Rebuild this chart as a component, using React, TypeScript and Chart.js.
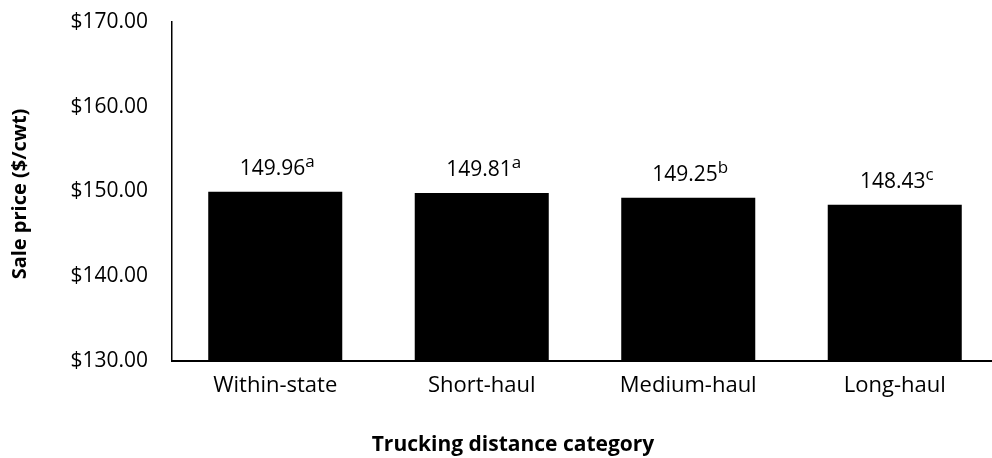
import React, { useEffect, useRef } from "react";
import { Chart, registerables } from "chart.js";

Chart.register(...registerables);

const categories = ["Within-state", "Short-haul", "Medium-haul", "Long-haul"];
const salePrices = [149.96, 149.81, 149.25, 148.43];
const significance = ["a", "a", "b", "c"];
const yTicks = [130, 140, 150, 160, 170];

const FONT = "'Open Sans', 'Noto Sans', sans-serif";

const labelPlugin = {
  id: "barLabels",
  afterDatasetsDraw(chart: any) {
    const { ctx } = chart;
    const meta = chart.getDatasetMeta(0);
    ctx.save();
    ctx.fillStyle = "#000";
    ctx.textBaseline = "alphabetic";
    meta.data.forEach((bar: any, i: number) => {
      const num = salePrices[i].toFixed(2);
      const sup = significance[i];
      ctx.font = `21px ${FONT}`;
      const wNum = ctx.measureText(num).width;
      ctx.font = `17px ${FONT}`;
      const wSup = ctx.measureText(sup).width;
      const total = wNum + wSup;
      const x0 = bar.x + 2 - total / 2;
      const base = bar.y - 17;
      ctx.textAlign = "left";
      ctx.font = `21px ${FONT}`;
      ctx.fillText(num, x0, base);
      ctx.font = `17px ${FONT}`;
      ctx.fillText(sup, x0 + wNum, base - 8);
    });
    ctx.restore();
  },
};

const titlePlugin = {
  id: "axisTitles",
  afterDraw(chart: any) {
    const { ctx } = chart;
    ctx.save();
    ctx.fillStyle = "#000";
    ctx.font = `bold 21px ${FONT}`;
    ctx.textAlign = "center";
    ctx.textBaseline = "middle";
    ctx.fillText("Trucking distance category", 513, 445);
    ctx.font = `bold 20px ${FONT}`;
    ctx.translate(20, 194);
    ctx.rotate(-Math.PI / 2);
    ctx.fillText("Sale price ($/cwt)", 0, 0);
    ctx.restore();
  },
};

export default function App() {
  const ref = useRef<HTMLCanvasElement | null>(null);

  useEffect(() => {
    if (!ref.current) return;
    const chart = new Chart(ref.current, {
      type: "bar",
      data: {
        labels: categories,
        datasets: [
          {
            data: salePrices,
            backgroundColor: "#000",
            borderWidth: 0,
            categoryPercentage: 1,
            barPercentage: 0.649,
          },
        ],
      },
      options: {
        animation: false,
        responsive: false,
        devicePixelRatio: 1,
        layout: { padding: { top: 22, right: 0, bottom: 0, left: 0 } },
        plugins: {
          legend: { display: false },
          tooltip: { enabled: false },
        },
        scales: {
          x: {
            grid: { display: false, drawTicks: false },
            border: { display: true, color: "#000", width: 2 },
            ticks: {
              color: "#000",
              font: { family: FONT, size: 22 },
              padding: 12,
            },
            afterFit(scale: any) {
              scale.height = 97;
              scale.paddingLeft = 0;
              scale.paddingRight = 0;
            },
          },
          y: {
            min: 130,
            max: 170,
            grid: { display: false, drawTicks: false },
            border: { display: true, color: "#000", width: 1.5 },
            afterBuildTicks(scale: any) {
              scale.ticks = yTicks.map((v) => ({ value: v }));
            },
            ticks: {
              color: "#000",
              font: { family: FONT, size: 21 },
              padding: 24,
              callback: (v: any) => "$" + Number(v).toFixed(2),
            },
            afterFit(scale: any) {
              scale.width = 172;
              scale.paddingTop = 0;
              scale.paddingBottom = 0;
            },
          },
        },
      },
      plugins: [labelPlugin, titlePlugin],
    });
    return () => chart.destroy();
  }, []);

  return (
    <div
      style={{
        position: "fixed",
        left: 0,
        top: 0,
        width: 992,
        height: 458,
        overflow: "hidden",
        background: "#fff",
      }}
    >
      <canvas ref={ref} width={998} height={458} style={{ display: "block" }} />
    </div>
  );
}
